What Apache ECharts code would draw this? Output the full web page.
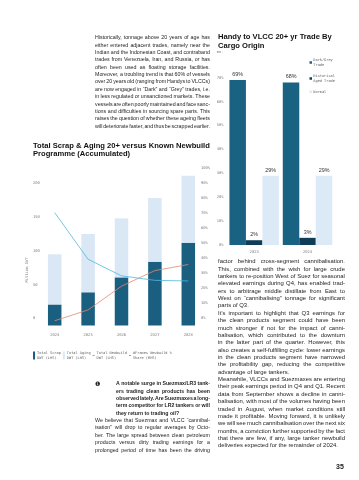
<!DOCTYPE html>
<html><head><meta charset="utf-8">
<script src="https://cdn.jsdelivr.net/npm/echarts@6/dist/echarts.min.js"></script>
<style>
html,body{margin:0;padding:0;background:#fff;width:359px;height:480px;overflow:hidden;}
#chart{position:absolute;left:0;top:0;width:359px;height:480px;}
.ln{position:absolute;font-family:"Liberation Sans",Arial,sans-serif;font-size:5.9px;color:#1e1e1e;white-space:nowrap;height:7.36px;line-height:7.36px;}
.j{display:flex;justify-content:space-between;}
.b{font-weight:bold;}
#pn{position:absolute;left:336px;top:463px;font-family:"Liberation Sans",Arial,sans-serif;font-weight:bold;font-size:7px;color:#222;}
#num{position:absolute;left:95px;top:380px;font-family:"DejaVu Sans",sans-serif;font-size:6px;color:#222;line-height:7.36px;}
</style></head>
<body>
<div id="chart"></div>
<div id="txt"></div>
<div id="num">❶</div>
<div id="pn">35</div>
<script>
// ---- data ----
const leftCategories = ['2024', '2025', '2026', '2027', '2028'];
const totalScrapDWT = [31, 49, 71, 94, 122];
const totalAgingDWT = [74, 86, 87, 94, 99];
const totalNewbuildDWT = [7, 23, 58, 81, 90];
const framesNewbuildShare = [75, 44, 33, 30, 29.6];
const leftTicksLHS = [0, 50, 100, 150, 200];
const rightCategories = ['2023', '2024'];
const darkGreyTrade = [69, 68];
const historicalAgedTrade = [2, 3];
const normalTrade = [29, 29];

// ---- text ----
const paraTopLeft = [
 'Historically, tonnage above 20 years of age has',
 'either entered adjacent trades, namely near the',
 'Indian and the Indonesian Coast, and contraband',
 'trades from Venezuela, Iran, and Russia, or has',
 'often been used as floating storage facilities.',
 'Moreover, a troubling trend is that 60% of vessels',
 'over 20 years old (ranging from Handys to VLCCs)',
 'are now engaged in \u201cDark\u201d and \u201cGrey\u201d trades, i.e.',
 'in less regulated or unsanctioned markets. These',
 'vessels are often poorly maintained and face sanc-',
 'tions and difficulties in sourcing spare parts. This',
 'raises the question of whether these ageing fleets',
 'will deteriorate faster, and thus be scrapped earlier.'
];
const paraRight = [
 'factor behind cross-segment cannibalisation.',
 'This, combined with the wish for large crude',
 'tankers to re-position West of Suez for seasonal',
 'elevated earnings during Q4, has enabled trad-',
 'ers to arbitrage middle distillate from East to',
 'West on \u201ccannibalising\u201d tonnage for significant',
 '*parts of Q3.',
 'It\u2019s important to highlight that Q3 earnings for',
 'the clean products segment could have been',
 'much stronger if not for the impact of canni-',
 'balisation, which contributed to the downturn',
 'in the latter part of the quarter. However, this',
 'also creates a self-fulfilling cycle: lower earnings',
 'in the clean products segment have narrowed',
 'the profitability gap, reducing the competitive',
 '*advantage of large tankers.',
 'Meanwhile, VLCCs and Suezmaxes are entering',
 'their peak earnings period in Q4 and Q1. Recent',
 'data from September shows a decline in canni-',
 'balisation, with most of the volumes having been',
 'traded in August, when market conditions still',
 'made it profitable. Moving forward, it is unlikely',
 'we will see much cannibalisation over the next six',
 'months, a conviction further supported by the fact',
 'that there are few, if any, large tanker newbuild',
 '*deliveries expected for the remainder of 2024.'
];
const paraQuestion = [
 'A notable surge in Suezmax/LR3 tank-',
 'ers trading clean products has been',
 'observed lately. Are Suezmaxes a long-',
 'term competitor for LR2 tankers or will',
 '*they return to trading oil?'
];
const paraBottom = [
 'We believe that Suezmax and VLCC \u201ccannibal-',
 'isation\u201d will drop to regular averages by Octo-',
 'ber. The large spread between clean petroleum',
 'products versus dirty trading earnings for a',
 'prolonged period of time has been the driving'
];
function para(lines, x, y, w, bold, fs) {
  const box = document.getElementById('txt');
  lines.forEach((s, i) => {
    const d = document.createElement('div');
    let left = false;
    if (s[0] === '*') { left = true; s = s.slice(1); }
    d.className = 'ln' + (left ? '' : ' j') + (bold ? ' b' : '');
    d.style.left = x + 'px'; d.style.top = (y + i * 7.36) + 'px'; d.style.width = w + 'px';
    d.style.fontSize = fs + 'px';
    if (left) d.textContent = s;
    else s.split(' ').forEach(wd => { const sp = document.createElement('span'); sp.textContent = wd; d.appendChild(sp); });
    box.appendChild(d);
  });
}
para(paraTopLeft, 95, 34.3, 115, false, 5.3);
para(paraRight, 218, 258.3, 127, false, 5.9);
para(paraQuestion, 116, 380.3, 94, true, 5.2);
para(paraBottom, 95, 417.1, 115, false, 5.3);

// ---- chart ----
const mono = '"DejaVu Sans Mono","Liberation Mono",monospace';
const sans = '"Liberation Sans",Arial,sans-serif';
const axisLab = { fontFamily: mono, fontSize: 3.8, color: '#7a7a7a' };
const legendLabels = {
  'Total Scrap DWT (LHS)': 'Total Scrap\nDWT (LHS)',
  'Total Aging DWT (LHS)': 'Total Aging\nDWT (LHS)',
  'Total Newbuild DWT (LHS)': 'Total Newbuild\nDWT (LHS)',
  '#Frames Newbuild % Share (RHS)': '#Frames Newbuild %\nShare (RHS)',
  'Dark/Grey Trade': 'Dark/Grey\nTrade',
  'Historical Aged Trade': 'Historical\nAged Trade',
  'Normal': 'Normal'
};
const lineIcon = 'path://M0,0h0.01v0.01h-0.01z M0,3.6h2v0.8h-2z M0,7.99h0.01v0.01h-0.01z';
const noAxis = { axisLine: { show: false }, axisTick: { show: false }, splitLine: { show: false } };
const chart = echarts.init(document.getElementById('chart'), null, { renderer: 'canvas' });
const titleStyle = { fontFamily: sans, fontWeight: 'bold', fontSize: 7.6, lineHeight: 8.6, color: '#111' };
chart.setOption({
  animation: false,
  title: [
    { text: 'Total Scrap & Aging 20+ versus Known Newbuild\nProgramme (Accumulated)', left: 33, top: 141.5, padding: 0, textStyle: titleStyle },
    { text: 'Handy to VLCC 20+ yr Trade By\nCargo Origin', left: 218, top: 33, padding: 0, textStyle: titleStyle }
  ],
  legend: [
    { left: 33, top: 350.5, orient: 'horizontal', itemWidth: 2, itemHeight: 8, itemGap: 2, padding: 0,
      data: [{ name: 'Total Scrap DWT (LHS)', icon: 'rect' }, { name: 'Total Aging DWT (LHS)', icon: 'rect' },
             { name: 'Total Newbuild DWT (LHS)', icon: lineIcon }, { name: '#Frames Newbuild % Share (RHS)', icon: lineIcon }],
      formatter: n => legendLabels[n],
      textStyle: { fontFamily: mono, fontSize: 3.6, lineHeight: 5, color: '#666', padding: [0, 0, 0, -3] } },
    { left: 309.5, top: 57, orient: 'vertical', itemWidth: 2.5, itemHeight: 2.5, itemGap: 5, padding: 0, icon: 'rect',
      data: ['Dark/Grey Trade', 'Historical Aged Trade', 'Normal'],
      formatter: n => legendLabels[n],
      textStyle: { fontFamily: mono, fontSize: 3.6, lineHeight: 5.5, color: '#666', padding: [0, 0, 0, -3.7] } }
  ],
  grid: [
    { left: 38, top: 175, width: 167, height: 150.5 },
    { left: 227.5, top: 77.7, width: 106.7, height: 167.3 }
  ],
  xAxis: [
    Object.assign({ type: 'category', gridIndex: 0, data: leftCategories, axisLabel: Object.assign({ margin: 8 }, axisLab) }, noAxis),
    Object.assign({ type: 'category', gridIndex: 1, data: rightCategories, axisLabel: Object.assign({ margin: 5 }, axisLab) }, noAxis)
  ],
  yAxis: [
    Object.assign({ type: 'value', gridIndex: 0, min: 0, max: 222, interval: 50,
      axisLabel: Object.assign({ align: 'left', margin: 5, verticalAlign: 'bottom', padding: [0, 0, 5, 0],
        formatter: v => leftTicksLHS.indexOf(v) >= 0 ? String(v) : '' }, axisLab) }, noAxis),
    Object.assign({ type: 'value', gridIndex: 0, position: 'right', min: 0, max: 100, interval: 10,
      axisLabel: Object.assign({ align: 'left', margin: -4, verticalAlign: 'bottom', padding: [0, 0, 5, 0], formatter: '{value}%' }, axisLab) }, noAxis),
    Object.assign({ type: 'value', gridIndex: 1, min: 0, max: 70, interval: 10,
      name: 'mn.', nameLocation: 'end', nameGap: 24,
      nameTextStyle: Object.assign({ align: 'right', padding: [0, 4, 0, 0] }, axisLab),
      axisLabel: Object.assign({ margin: 4, formatter: '{value}%' }, axisLab) }, noAxis)
  ],
  graphic: [
    { type: 'text', x: 27, y: 270, rotation: Math.PI / 2,
      style: { text: 'Million DWT', fontFamily: mono, fontSize: 3.8, fill: '#7a7a7a', align: 'center', verticalAlign: 'middle' } }
  ],
  series: [
    { name: 'Total Scrap DWT (LHS)', type: 'bar', xAxisIndex: 0, yAxisIndex: 0, stack: 'tot', barWidth: 13.5,
      itemStyle: { color: '#1b5f80' }, data: totalScrapDWT },
    { name: 'Total Aging DWT (LHS)', type: 'bar', xAxisIndex: 0, yAxisIndex: 0, stack: 'tot', barWidth: 13.5,
      itemStyle: { color: '#dae7f5' }, data: totalAgingDWT },
    { name: 'Total Newbuild DWT (LHS)', type: 'line', xAxisIndex: 0, yAxisIndex: 0, symbol: 'none',
      itemStyle: { color: '#e6866c' }, lineStyle: { width: 0.8, color: '#e6866c' }, data: totalNewbuildDWT },
    { name: '#Frames Newbuild % Share (RHS)', type: 'line', xAxisIndex: 0, yAxisIndex: 1, symbol: 'none',
      itemStyle: { color: '#4fb7e0' }, lineStyle: { width: 0.8, color: '#4fb7e0' }, data: framesNewbuildShare },
    { name: 'Dark/Grey Trade', type: 'bar', xAxisIndex: 1, yAxisIndex: 2, barWidth: 16.5, barGap: '0%',
      itemStyle: { color: '#1a6282' }, data: darkGreyTrade,
      label: { show: true, position: 'top', distance: 3, formatter: '{c}%', fontFamily: sans, fontSize: 5.4, color: '#333' } },
    { name: 'Historical Aged Trade', type: 'bar', xAxisIndex: 1, yAxisIndex: 2, barWidth: 16.5, barGap: '0%',
      itemStyle: { color: '#0f3d57' }, data: historicalAgedTrade,
      label: { show: true, position: 'top', distance: 3, formatter: '{c}%', fontFamily: sans, fontSize: 5.4, color: '#333' } },
    { name: 'Normal', type: 'bar', xAxisIndex: 1, yAxisIndex: 2, barWidth: 16.5, barGap: '0%',
      itemStyle: { color: '#dce9f6' }, data: normalTrade,
      label: { show: true, position: 'top', distance: 3, formatter: '{c}%', fontFamily: sans, fontSize: 5.4, color: '#333' } }
  ]
});
</script>
</body></html>
